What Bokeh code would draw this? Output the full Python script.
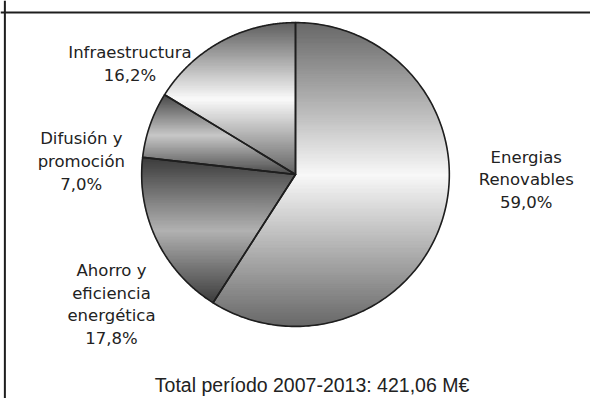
import numpy as np
from bokeh.plotting import figure
from bokeh.models import Range1d, Span, Label, ColumnDataSource
from bokeh.core.properties import value
from bokeh.embed import file_html
from bokeh.resources import INLINE

# ---------------- data ----------------
categories = ["Energias Renovables", "Ahorro y eficiencia energética",
              "Difusión y promoción", "Infraestructura"]
shares = [59.0, 17.8, 7.0, 16.2]
label_lines = [["Energias", "Renovables"],
               ["Ahorro y", "eficiencia", "energética"],
               ["Difusión y", "promoción"],
               ["Infraestructura"]]
total_label = "Total período 2007-2013: 421,06 M€"

# ---------------- styles / layout (in reference-image pixels) ----------------
gradient_dark = ["#686868", "#3c3c3c", "#4a4a4a", "#606060"]
gradient_light = ["#f8f8f8", "#b2b2b2", "#c8c8c8", "#fafafa"]
label_anchor = [(540, 163), (114, 281), (83, 144), (133, 54)]  # centre x, first baseline
line_step = 23.5
REF_W, REF_H = 606, 414
CX, CY, R = 303, REF_H - 181, 158

p = figure(width=590, height=398, x_range=Range1d(0, REF_W), y_range=Range1d(0, REF_H),
           output_backend="svg", toolbar_location=None,
           x_axis_location=None, y_axis_location=None,
           min_border_top=0, min_border_left=0, min_border_right=0, min_border_bottom=0)
p.grid.visible = False
p.outline_line_color = None
p.background_fill_color = "white"
p.border_fill_color = "white"

# frame lines (left and top)
p.add_layout(Span(location=4.5, dimension="height", line_color="#1e1e1e", line_width=2))
p.add_layout(Span(location=REF_H - 12.5, dimension="width", line_color="#1e1e1e", line_width=2))


def hex2rgb(h):
    h = h.lstrip("#")
    return np.array([int(h[i:i + 2], 16) for i in (0, 2, 4)], dtype=float)


def rgb2hex(c):
    c = np.clip(np.round(c), 0, 255).astype(int)
    return "#%02x%02x%02x" % tuple(c)


def clip(poly, y0, keep_above):
    out = []
    n = len(poly)
    for i in range(n):
        P = poly[i]
        Q = poly[(i + 1) % n]
        pin = P[1] >= y0 if keep_above else P[1] <= y0
        qin = Q[1] >= y0 if keep_above else Q[1] <= y0
        if pin:
            out.append(P)
        if pin != qin:
            t = (y0 - P[1]) / (Q[1] - P[1])
            out.append((P[0] + t * (Q[0] - P[0]), y0))
    return out


fr = np.array(shares) / sum(shares)
cum = np.concatenate([[0], np.cumsum(fr)]) * 2 * np.pi
starts_cw = cum[:-1]
ends_cw = cum[1:]

bx, by, bc = [], [], []
ox, oy = [], []
for i in range(len(shares)):
    th = np.linspace(np.pi / 2 - starts_cw[i], np.pi / 2 - ends_cw[i], 200)
    poly = [(CX, CY)] + [(CX + R * np.cos(t), CY + R * np.sin(t)) for t in th]
    ox.append([q[0] for q in poly])
    oy.append([q[1] for q in poly])
    ys = [q[1] for q in poly]
    ymin, ymax = min(ys), max(ys)
    nb = int((ymax - ymin) / 1.5) + 1
    edges = np.linspace(ymin, ymax, nb + 1)
    dark = hex2rgb(gradient_dark[i])
    light = hex2rgb(gradient_light[i])
    for k in range(nb):
        y0, y1 = edges[k] - 0.4, edges[k + 1] + 0.4
        band = clip(clip(poly, y0, True), y1, False)
        if len(band) < 3:
            continue
        yc = 0.5 * (edges[k] + edges[k + 1])
        f = (ymax - yc) / (ymax - ymin)
        t = abs(1 - 2 * f)
        col = light + (dark - light) * t
        bx.append([q[0] for q in band])
        by.append([q[1] for q in band])
        bc.append(rgb2hex(col))

p.patches(xs="xs", ys="ys", fill_color="c", line_color="c", line_width=0.5,
          source=ColumnDataSource(dict(xs=bx, ys=by, c=bc)))

p.patches(xs="xs", ys="ys", fill_alpha=0, line_color="#1e1e1e", line_width=1.6,
          line_join="round", source=ColumnDataSource(dict(xs=ox, ys=oy, cat=categories)))

# labels
tx, ty, tt = [], [], []
for i, v in enumerate(shares):
    lines = label_lines[i] + [f"{v:.1f}".replace(".", ",") + "%"]
    ax, ay = label_anchor[i]
    for j, s in enumerate(lines):
        tx.append(ax)
        ty.append(REF_H - (ay + j * line_step))
        tt.append(s)
p.text(x="x", y="y", text="t", source=ColumnDataSource(dict(x=tx, y=ty, t=tt)),
       text_font=value("DejaVu Sans"), text_font_size="16.5px", text_color="#222222",
       text_align="center", text_baseline="alphabetic")

p.add_layout(Label(x=320, y=REF_H - 400, text=total_label, text_font="Liberation Sans",
                   text_font_size="19.5px", text_color="#222222", text_align="center",
                   text_baseline="alphabetic"))

open("out.html", "w").write(file_html(p, INLINE))
